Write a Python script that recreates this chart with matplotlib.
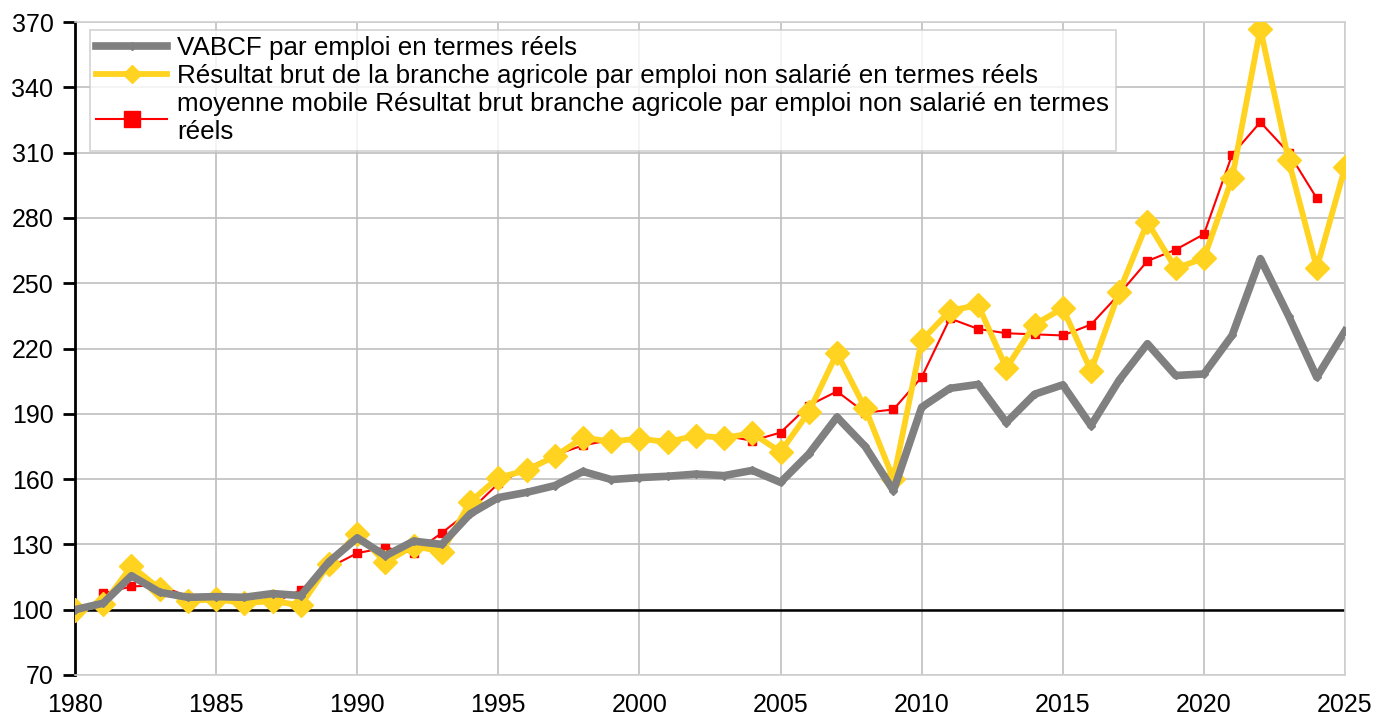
import numpy as np
import matplotlib.pyplot as plt

plt.rcParams['font.family'] = ['Liberation Sans', 'DejaVu Sans']

# data (index 1980 = 100)
years = list(range(1980, 2026))
vabcf = [100, 103, 115.6, 108, 105.7, 106, 105.7, 107.4, 106.5, 122, 133,
         124.8, 131.5, 130, 144, 151.5, 153.9, 157, 163.5, 159.8, 160.7,
         161.3, 162.3, 161.6, 164, 158.5, 171.5, 188.5, 175, 154.7, 193,
         201.7, 203.5, 186, 199, 203.3, 184.6, 205.5, 222.2, 207.6, 208.3,
         226, 261.3, 235, 206.8, 228]
resultat = [100, 102.5, 120, 109.6, 104, 104.8, 103, 104, 102, 121, 135,
            121.7, 129.4, 126.5, 149.5, 160.7, 164, 170.5, 179, 177.3, 178.6,
            177, 180, 179, 181, 172.5, 190.8, 217.8, 192.5, 160, 223.7,
            237.3, 240, 211, 231, 238.5, 209.8, 246, 278, 256.8, 261.5,
            298.2, 367, 306.5, 257, 303.2]
mm_years = list(range(1981, 2025))
moyenne = [107.5, 110.7, 111.2, 106, 104, 104, 103, 109, 119.3, 126,
           128.5, 126, 135.3, 145.5, 158, 165, 171, 175.5, 178, 177.6,
           178.5, 179, 180, 177.6, 181.4, 193.8, 200.3, 190.5, 192, 206.8,
           233.8, 229, 227, 226.5, 226, 231, 245, 260.2, 265.4, 272.5,
           309, 324, 310, 289]

labels = ["VABCF par emploi en termes réels",
          "Résultat brut de la branche agricole par emploi non salarié en termes réels",
          "moyenne mobile Résultat brut branche agricole par emploi non salarié en termes\nréels"]

fig = plt.figure(figsize=(13.77, 7.22), dpi=100)
ax = fig.add_axes([75/1377, 1 - 675/722, 1270/1377, 653/722])

ax.plot(mm_years, moyenne, color='#FF0000', lw=1.5, marker='s', ms=5.5,
        label=labels[2], zorder=3)
ax.plot(years, resultat, color='#FFD320', lw=4.2, marker='D', ms=12,
        label=labels[1], zorder=4)
ax.plot(years, vabcf, color='#808080', lw=5.5, marker='D', ms=4,
        label=labels[0], zorder=5)
ax.axhline(100, color='black', lw=1.8, zorder=2)

ax.set_xlim(1980, 2025)
ax.set_ylim(70, 370)
ax.set_xticks(range(1980, 2026, 5))
ax.set_yticks(range(70, 371, 30))
ax.grid(True, color='#BFBFBF', lw=1.2)
ax.set_axisbelow(True)
for s in ['top', 'right', 'bottom']:
    ax.spines[s].set_color('#D0D0D0')
    ax.spines[s].set_linewidth(1.2)
ax.spines['left'].set_color('black')
ax.spines['left'].set_linewidth(2)
ax.tick_params(axis='y', length=8.5, width=2, labelsize=18, pad=7)
ax.tick_params(axis='x', length=0, labelsize=18, pad=13)

handles, labs = ax.get_legend_handles_labels()
order = [2, 1, 0]
leg = ax.legend([handles[i] for i in order], [labs[i] for i in order],
                loc='upper left', bbox_to_anchor=(15/1270, 1 - 8/653),
                borderaxespad=0, fontsize=18.7, frameon=True, fancybox=False,
                edgecolor='#C8C8C8', handlelength=2.7, handletextpad=0.4,
                labelspacing=0.15, borderpad=0.25)
leg.get_frame().set_linewidth(1.2)
# legend markers are drawn bigger for the red series, smaller for yellow
leg.legend_handles[1].set_markersize(9)
leg.legend_handles[2].set_markersize(12)

plt.savefig('out.png', dpi=100)
